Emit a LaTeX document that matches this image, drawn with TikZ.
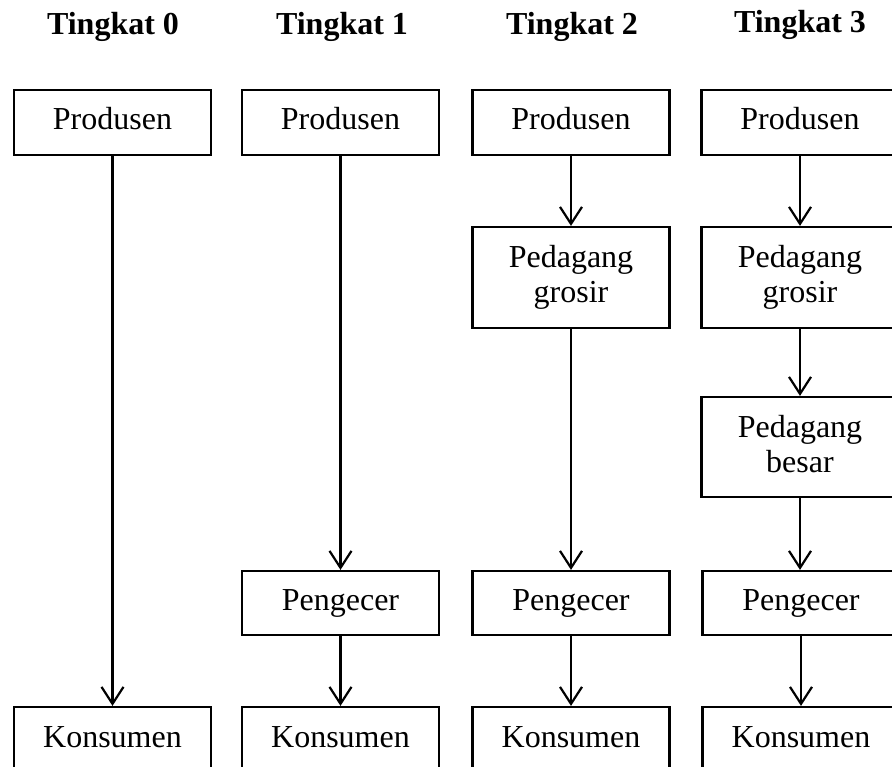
\documentclass[tikz,border=0pt]{standalone}
\usepackage{fontspec}
\setmainfont{Liberation Serif}
\usetikzlibrary{arrows.meta}
\begin{document}
\begin{tikzpicture}[x=1pt,y=-1pt,
  box/.style={draw, line width=2.2pt, minimum width=197pt, inner sep=0pt,
    font=\fontsize{32}{35}\selectfont, align=center},
  one/.style={box, text height=22pt, text depth=7pt},
  title/.style={font=\fontsize{32}{35}\selectfont\bfseries, text height=22pt, text depth=7pt, inner sep=0pt},
  flow/.style={line width=2.2pt, -{Straight Barb[length=17pt,width=22pt]}}]
\useasboundingbox (0,0) rectangle (892,767);
% titles
\node[title] (t0) at (113,27.5) {Tingkat 0};
\node[title] (t1) at (342,27.5) {Tingkat 1};
\node[title] (t2) at (572,27.5) {Tingkat 2};
\node[title] (t3) at (800,25.5) {Tingkat 3};
% column 0
\node[one, minimum height=65pt] (p0) at (112.5,122.5) {Produsen};
\node[one, minimum height=65pt] (k0) at (112.5,739.5) {Konsumen};
% column 1
\node[one, minimum height=65pt] (p1) at (340.5,122.5) {Produsen};
\node[one, minimum height=64pt] (e1) at (340.5,603) {Pengecer};
\node[one, minimum height=65pt] (k1) at (340.5,739.5) {Konsumen};
% column 2
\node[one, minimum height=65pt] (p2) at (571,122.5) {Produsen};
\node[box, minimum height=101pt] (g2) at (571,277.5) {Pedagang\\grosir};
\node[one, minimum height=64pt] (e2) at (571,603) {Pengecer};
\node[one, minimum height=65pt] (k2) at (571,739.5) {Konsumen};
% column 3
\node[one, minimum height=65pt] (p3) at (800,122.5) {Produsen};
\node[box, minimum height=101pt] (g3) at (800,277.5) {Pedagang\\grosir};
\node[box, minimum height=100pt] (b3) at (800,447) {Pedagang\\besar\vphantom{g}};
\node[one, minimum height=64pt] (e3) at (801,603) {Pengecer};
\node[one, minimum height=65pt] (k3) at (801,739.5) {Konsumen};
% connectors
\draw[flow] (p0) -- (k0);
\draw[flow] (p1) -- (e1);
\draw[flow] (e1) -- (k1);
\draw[flow] (p2) -- (g2);
\draw[flow] (g2) -- (e2);
\draw[flow] (e2) -- (k2);
\draw[flow] (p3) -- (g3);
\draw[flow] (g3) -- (b3);
\draw[flow] (b3.south) -- (b3.south |- e3.north);
\draw[flow] (e3.north |- e3.south) -- (k3);
\end{tikzpicture}
\end{document}
